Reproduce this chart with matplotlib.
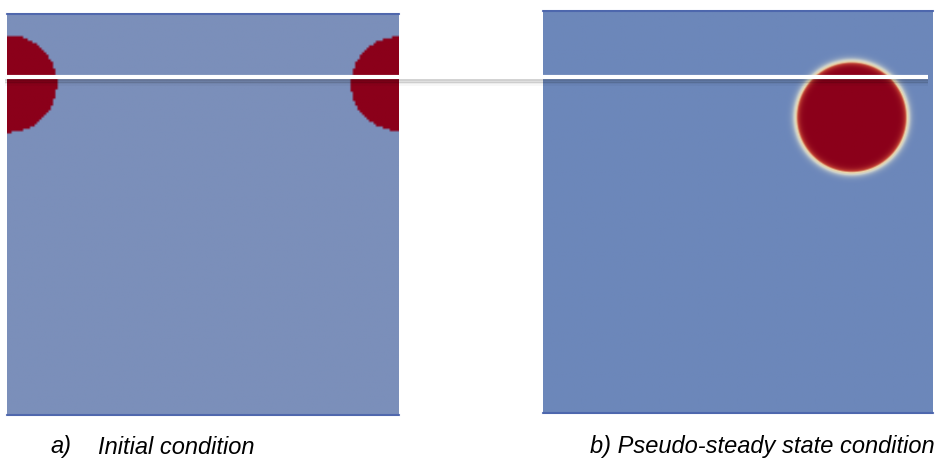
import numpy as np
import matplotlib
matplotlib.use("Agg")
import matplotlib.pyplot as plt
from matplotlib.colors import LinearSegmentedColormap

# panel boxes in pixels: left, right, top, bottom
panel_a = [7, 399, 13, 416]
panel_b = [543, 933, 10, 414]

# drops: (centre x, centre y, radius) in pixels
drops_a = [(7, 83, 49), (399, 83, 47)]
drops_b = [(852, 117, 56)]

line_y = 77
line_x = [5, 928]

tags = ["a)", "b) Pseudo-steady state condition"]
tag_x = [50, 590]
names = ["Initial condition", ""]
name_x = [98, 0]
label_y = 447

blue_a = (123/255, 143/255, 186/255)
blue_b = (108/255, 135/255, 186/255)
red = (139/255, 0, 26/255)
edge = (70/255, 95/255, 170/255)

fig = plt.figure(figsize=(9.43, 4.59), dpi=100)
ax = fig.add_axes([0, 0, 1, 1])
ax.set_xlim(0, 943)
ax.set_ylim(459, 0)
ax.axis("off")


def field(box, drops, n, soft):
    x0, x1, y0, y1 = box
    xs = np.linspace(x0, x1, n)
    ys = np.linspace(y0, y1, int(n * (y1 - y0) / (x1 - x0)))
    X, Y = np.meshgrid(xs, ys)
    phi = np.zeros_like(X)
    for cx, cy, r in drops:
        d = np.hypot(X - cx, Y - cy) - r
        if soft:
            phi = np.maximum(phi, 0.5 * (1 - np.tanh(d / 4.0)))
        else:
            phi = np.maximum(phi, (d < 0).astype(float))
    return phi


cmap_a = LinearSegmentedColormap.from_list("a", [blue_a, (0.85, 0.6, 0.45), red])
cmap_b = LinearSegmentedColormap.from_list(
    "b", [(0, blue_b), (0.3, (0.80, 0.82, 0.80)), (0.55, (0.93, 0.84, 0.66)), (0.75, (0.75, 0.25, 0.2)), (1, red)])

img_a = field(panel_a, drops_a, 170, False)
ax.imshow(img_a, cmap=cmap_a, vmin=0, vmax=1, interpolation="bilinear",
          extent=[panel_a[0], panel_a[1], panel_a[3], panel_a[2]], aspect="auto")
img_b = field(panel_b, drops_b, 400, True)
ax.imshow(img_b, cmap=cmap_b, vmin=0, vmax=1, interpolation="bilinear",
          extent=[panel_b[0], panel_b[1], panel_b[3], panel_b[2]], aspect="auto")

# darker edges top and bottom
for box in [panel_a, panel_b]:
    ax.plot([box[0], box[1]], [box[2] + 1, box[2] + 1], color=edge, lw=1.5, alpha=0.8)
    ax.plot([box[0], box[1]], [box[3] - 1, box[3] - 1], color=edge, lw=1.5, alpha=0.8)

# white line with soft shadow underneath
for k, a in zip([3, 4.5, 6, 7.5], [0.22, 0.15, 0.09, 0.04]):
    ax.plot(line_x, [line_y + k, line_y + k], color="black", lw=1.2, alpha=a, solid_capstyle="butt")
ax.plot(line_x, [line_y, line_y], color="white", lw=3, solid_capstyle="butt")

for t, x in zip(tags, tag_x):
    ax.text(x, label_y, t, fontsize=17, fontstyle="italic", family="Liberation Sans",
            va="center", ha="left", color="black")
for t, x in zip(names, name_x):
    if t:
        ax.text(x, label_y, t, fontsize=17, fontstyle="italic", family="Liberation Sans",
                va="center", ha="left", color="black")

fig.savefig("out.png", dpi=100)
